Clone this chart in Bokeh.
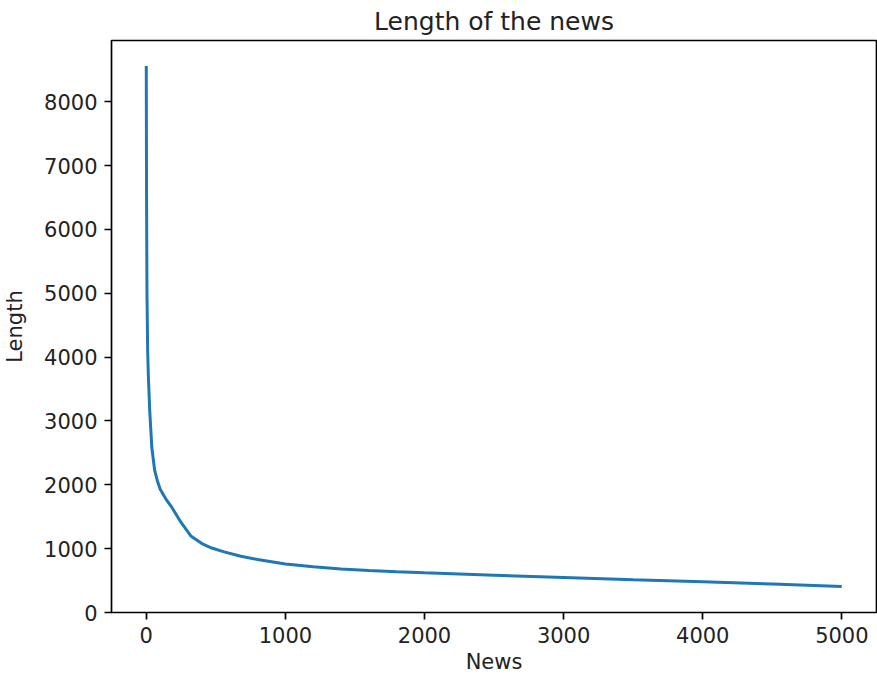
from bokeh.plotting import figure
from bokeh.models import Range1d, FixedTicker, Title
from bokeh.embed import file_html
from bokeh.resources import INLINE

# Data (sorted news lengths)
news_index = [0, 2, 5, 10, 15, 25, 40, 60, 80, 100, 140, 180, 250, 320, 400,
              470, 560, 680, 800, 1000, 1200, 1400, 1600, 1800, 2000, 2500,
              3000, 3500, 4000, 4500, 4999]
news_length = [8560, 6500, 5000, 4100, 3700, 3150, 2580, 2230, 2060, 1930, 1780,
               1660, 1410, 1200, 1080, 1010, 950, 880, 830, 760, 715, 682, 658,
               637, 622, 585, 548, 512, 482, 447, 407]
x_ticks = [0, 1000, 2000, 3000, 4000, 5000]
y_ticks = [0, 1000, 2000, 3000, 4000, 5000, 6000, 7000, 8000]

FONT = "DejaVu Sans"
TXT = "#222222"

p = figure(frame_width=765, frame_height=572, output_backend="svg", toolbar_location=None,
           x_range=Range1d(-250, 5249), y_range=Range1d(0, 8960),
           title="Length of the news", y_axis_label="Length",
           min_border_left=102, min_border_right=1, min_border_top=33,
           min_border_bottom=0)

p.line(news_index, news_length, line_color="#1f77b4", line_width=3)

p.title.align = "center"
p.title.text_font = FONT
p.title.text_font_size = "25px"
p.title.text_font_style = "normal"
p.title.text_color = TXT
p.title.standoff = 9
p.title.offset = 0

p.grid.visible = False
p.outline_line_color = "black"
p.outline_line_width = 1.7
p.outline_line_alpha = 1.0
p.background_fill_color = "white"
p.border_fill_color = "white"

p.xaxis.ticker = FixedTicker(ticks=x_ticks)
p.yaxis.ticker = FixedTicker(ticks=y_ticks)
for ax in (p.xaxis, p.yaxis):
    ax.axis_line_color = None
    ax.major_tick_out = 7
    ax.major_tick_in = 0
    ax.major_tick_line_width = 1.7
    ax.major_tick_line_color = "black"
    ax.minor_tick_line_color = None
    ax.major_label_text_font = FONT
    ax.major_label_text_font_size = "21px"
    ax.major_label_text_color = TXT
    ax.major_label_standoff = 7
    ax.axis_label_text_font = FONT
    ax.axis_label_text_font_size = "21px"
    ax.axis_label_text_font_style = "normal"
    ax.axis_label_text_color = TXT
p.yaxis.axis_label_standoff = 14

# x-axis label as a title panel below the x axis
x_label = Title(text="News", align="center", text_font=FONT, text_font_size="21px",
                text_font_style="normal", text_color=TXT, standoff=4)
p.add_layout(x_label, "below")

open("out.html", "w").write(file_html(p, INLINE))
